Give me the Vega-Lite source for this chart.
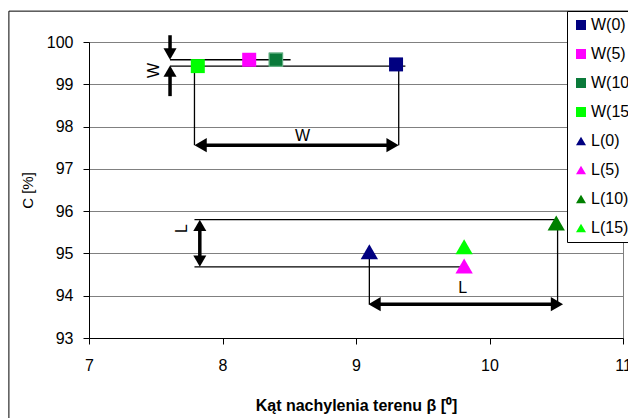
{
  "$schema": "https://vega.github.io/schema/vega-lite/v6.json",
  "width": 534,
  "height": 296,
  "autosize": "none",
  "padding": {"left": 89, "top": 42, "right": 5, "bottom": 80},
  "background": "white",
  "config": {
    "font": "Liberation Sans",
    "text": {"font": "Liberation Sans"},
    "view": {"stroke": "#808080", "strokeWidth": 1},
    "axis": {"labelFont": "Liberation Sans", "titleFont": "Liberation Sans", "labelFontSize": 16, "labelColor": "black", "titleColor": "black", "tickColor": "black", "domainColor": "black", "tickSize": 6, "domainWidth": 1, "tickWidth": 1, "labelFlush": false}
  },
  "datasets": {
    "points": [
      {"series": "W(0)", "group": "W", "beta": 9.30, "C": 99.47},
      {"series": "W(5)", "group": "W", "beta": 8.20, "C": 99.58},
      {"series": "W(10)", "group": "W", "beta": 8.40, "C": 99.58},
      {"series": "W(15)", "group": "W", "beta": 7.815, "C": 99.43},
      {"series": "L(0)", "group": "L", "beta": 9.10, "C": 95.04},
      {"series": "L(5)", "group": "L", "beta": 9.81, "C": 94.70},
      {"series": "L(10)", "group": "L", "beta": 10.50, "C": 95.72},
      {"series": "L(15)", "group": "L", "beta": 9.81, "C": 95.16}
    ],
    "thin": [
      {"x": 7.607, "x2": 8.51, "y": 99.58, "y2": 99.58},
      {"x": 7.607, "x2": 9.37, "y": 99.43, "y2": 99.43},
      {"x": 7.79, "x2": 7.79, "y": 99.43, "y2": 97.56},
      {"x": 9.32, "x2": 9.32, "y": 99.43, "y2": 97.56},
      {"x": 7.79, "x2": 10.51, "y": 95.80, "y2": 95.80},
      {"x": 7.79, "x2": 9.84, "y": 94.68, "y2": 94.68},
      {"x": 9.10, "x2": 9.10, "y": 95.03, "y2": 93.80},
      {"x": 10.51, "x2": 10.51, "y": 95.80, "y2": 93.80}
    ],
    "thick": [
      {"x": 7.83, "x2": 9.28, "y": 97.56, "y2": 97.56},
      {"x": 7.607, "x2": 7.607, "y": 100.16, "y2": 99.71},
      {"x": 7.607, "x2": 7.607, "y": 99.31, "y2": 98.72},
      {"x": 7.83, "x2": 7.83, "y": 95.66, "y2": 94.82},
      {"x": 9.14, "x2": 10.50, "y": 93.80, "y2": 93.80}
    ],
    "heads": [
      {"dir": "left", "x": 7.836, "y": 97.56},
      {"dir": "right", "x": 9.274, "y": 97.56},
      {"dir": "down", "x": 7.607, "y": 99.716},
      {"dir": "up", "x": 7.607, "y": 99.31},
      {"dir": "up", "x": 7.83, "y": 95.664},
      {"dir": "down", "x": 7.83, "y": 94.818},
      {"dir": "left", "x": 9.139, "y": 93.80},
      {"dir": "right", "x": 10.505, "y": 93.80}
    ],
    "labelsH": [
      {"text": "W", "x": 8.60, "y": 97.77},
      {"text": "L", "x": 9.80, "y": 94.18}
    ],
    "labelsV": [
      {"text": "W", "x": 7.49, "y": 99.33},
      {"text": "L", "x": 7.70, "y": 95.59}
    ]
  },
  "layer": [
    {
      "data": {"values": [{}]},
      "mark": {"type": "rect", "fill": "transparent", "stroke": "black", "strokeWidth": 1, "clip": false},
      "encoding": {
        "x": {"datum": 6.40, "type": "quantitative", "scale": {"domain": [7, 11], "nice": false, "zero": false}, "axis": {"values": [7, 8, 9, 10, 11], "format": "d", "grid": false, "labelFlush": false, "labelOverlap": false, "labelBound": false, "labelPadding": 13, "title": "Kąt nachylenia terenu β [⁰]", "titleFontSize": 16, "titleFontWeight": "bold", "titleY": 67, "titleBaseline": "middle"}},
        "x2": {"datum": 11.3},
        "y": {"datum": 100.73, "type": "quantitative", "scale": {"domain": [93, 100], "nice": false, "zero": false}, "axis": {"values": [93, 94, 95, 96, 97, 98, 99, 100], "format": "d", "grid": true, "gridColor": "#808080", "gridWidth": 1, "labelFlush": false, "labelPadding": 10, "title": "C [%]", "titleFontSize": 15, "titleFontWeight": "normal", "titleX": -62, "titleY": 148, "titleBaseline": "middle"}},
        "y2": {"datum": 90.3}
      }
    },
    {
      "data": {"name": "thin"},
      "mark": {"type": "rule", "color": "black", "strokeWidth": 1.3},
      "encoding": {
        "x": {"field": "x", "type": "quantitative"},
        "x2": {"field": "x2"},
        "y": {"field": "y", "type": "quantitative"},
        "y2": {"field": "y2"}
      }
    },
    {
      "data": {"name": "thick"},
      "mark": {"type": "rule", "color": "black", "strokeWidth": 3.5},
      "encoding": {
        "x": {"field": "x", "type": "quantitative"},
        "x2": {"field": "x2"},
        "y": {"field": "y", "type": "quantitative"},
        "y2": {"field": "y2"}
      }
    },
    {
      "data": {"name": "heads"},
      "transform": [{"filter": "datum.dir === 'left'"}],
      "mark": {"type": "point", "shape": "triangle-left", "filled": true, "color": "black", "opacity": 1, "size": 200},
      "encoding": {"x": {"field": "x", "type": "quantitative"}, "y": {"field": "y", "type": "quantitative"}}
    },
    {
      "data": {"name": "heads"},
      "transform": [{"filter": "datum.dir === 'right'"}],
      "mark": {"type": "point", "shape": "triangle-right", "filled": true, "color": "black", "opacity": 1, "size": 200},
      "encoding": {"x": {"field": "x", "type": "quantitative"}, "y": {"field": "y", "type": "quantitative"}}
    },
    {
      "data": {"name": "heads"},
      "transform": [{"filter": "datum.dir === 'up'"}],
      "mark": {"type": "point", "shape": "triangle-up", "filled": true, "color": "black", "opacity": 1, "size": 170},
      "encoding": {"x": {"field": "x", "type": "quantitative"}, "y": {"field": "y", "type": "quantitative"}}
    },
    {
      "data": {"name": "heads"},
      "transform": [{"filter": "datum.dir === 'down'"}],
      "mark": {"type": "point", "shape": "triangle-down", "filled": true, "color": "black", "opacity": 1, "size": 170},
      "encoding": {"x": {"field": "x", "type": "quantitative"}, "y": {"field": "y", "type": "quantitative"}}
    },
    {
      "data": {"name": "labelsH"},
      "mark": {"type": "text", "fontSize": 16, "color": "black", "baseline": "middle", "align": "center"},
      "encoding": {"x": {"field": "x", "type": "quantitative"}, "y": {"field": "y", "type": "quantitative"}, "text": {"field": "text"}}
    },
    {
      "data": {"name": "labelsV"},
      "mark": {"type": "text", "fontSize": 16, "color": "black", "baseline": "middle", "align": "center", "angle": 270},
      "encoding": {"x": {"field": "x", "type": "quantitative"}, "y": {"field": "y", "type": "quantitative"}, "text": {"field": "text"}}
    },
    {
      "data": {"name": "points"},
      "transform": [{"filter": "datum.group === 'W'"}],
      "mark": {"type": "point", "filled": true, "opacity": 1, "size": 196},
      "encoding": {
        "x": {"field": "beta", "type": "quantitative"},
        "y": {"field": "C", "type": "quantitative"},
        "color": {"field": "series", "type": "nominal", "scale": {"domain": ["W(0)", "W(5)", "W(10)", "W(15)", "L(0)", "L(5)", "L(10)", "L(15)"], "range": ["#000080", "#FF00FF", "#0A7A3A", "#00FF00", "#000080", "#FF00FF", "#008000", "#00FF00"]},
          "legend": {"orient": "none", "legendX": 478, "legendY": -31, "title": null, "strokeColor": "black", "fillColor": "white", "padding": 6, "labelFontSize": 16, "labelFont": "Liberation Sans", "labelColor": "black", "rowPadding": 13, "labelOffset": 2, "cornerRadius": 0, "symbolStrokeWidth": 0,
            "encode": {"symbols": {"update": {"size": {"signal": "datum.value === 'W(15)' ? 196 : (indexof(['W(0)','W(5)','W(10)'], datum.value) >= 0 ? 56 : 115)"}, "stroke": {"signal": "datum.value === 'W(10)' ? '#5FAE80' : 'transparent'"}, "strokeWidth": {"value": 1}}}}}},
        "shape": {"field": "series", "type": "nominal", "scale": {"domain": ["W(0)", "W(5)", "W(10)", "W(15)", "L(0)", "L(5)", "L(10)", "L(15)"], "range": ["square", "square", "square", "square", "triangle-up", "triangle-up", "triangle-up", "triangle-up"]}}
      }
    },
    {
      "data": {"name": "points"},
      "transform": [{"filter": "datum.series === 'W(10)'"}],
      "mark": {"type": "point", "filled": false, "shape": "square", "color": "#5FAE80", "strokeWidth": 1.2, "opacity": 1, "size": 180},
      "encoding": {
        "x": {"field": "beta", "type": "quantitative"},
        "y": {"field": "C", "type": "quantitative"}
      }
    },
    {
      "data": {"name": "points"},
      "transform": [{"filter": "datum.group === 'L'"}],
      "mark": {"type": "point", "filled": true, "opacity": 1, "size": 300},
      "encoding": {
        "x": {"field": "beta", "type": "quantitative"},
        "y": {"field": "C", "type": "quantitative"},
        "color": {"field": "series", "type": "nominal"},
        "shape": {"field": "series", "type": "nominal"}
      }
    }
  ]
}
